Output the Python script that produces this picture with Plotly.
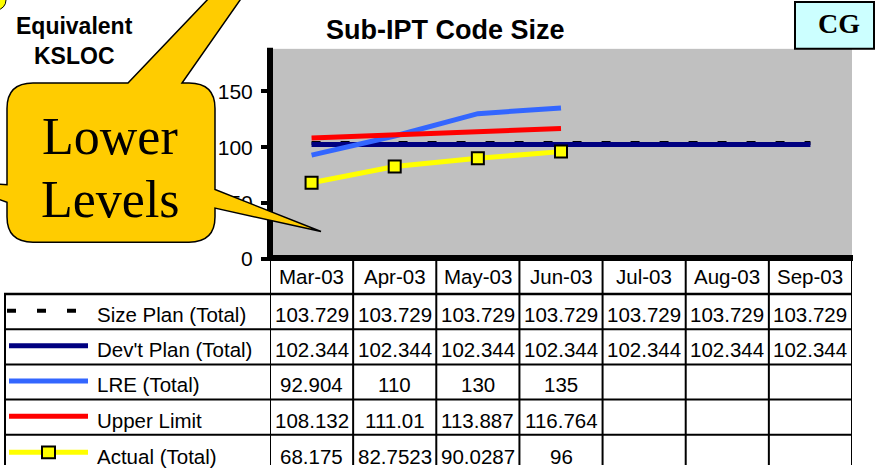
import plotly.graph_objects as go

# ---------------- data ----------------
months = ["Mar-03", "Apr-03", "May-03", "Jun-03", "Jul-03", "Aug-03", "Sep-03"]
size_plan = [103.729, 103.729, 103.729, 103.729, 103.729, 103.729, 103.729]
dev_plan = [102.344, 102.344, 102.344, 102.344, 102.344, 102.344, 102.344]
lre = [92.904, 110, 130, 135, None, None, None]
upper_limit = [108.132, 111.01, 113.887, 116.764, None, None, None]
actual = [68.175, 82.7523, 90.0287, 96, None, None, None]
series_names = ["Size Plan (Total)", "Dev't Plan (Total)", "LRE (Total)", "Upper Limit", "Actual (Total)"]
y_ticks = [0, 50, 100, 150]
title_text = "Sub-IPT Code Size"
y_label = ["Equivalent", "KSLOC"]
callout_lines = ["Lower", "Levels"]
badge = "CG"

# ---------------- helpers ----------------
W, H = 875, 476
def X(p):
    return p / W
def Y(p):
    return 1 - p / H

SANS = "Arial, Liberation Sans, sans-serif"
SERIF = "Times New Roman, Liberation Serif, serif"
FS = 20.5
colors = ["#000000", "#000080", "#3366FF", "#FF0000", "#FFFF00"]
all_series = [size_plan, dev_plan, lre, upper_limit, actual]

fig = go.Figure()
for i, (name, vals) in enumerate(zip(series_names, all_series)):
    if i == 0:
        line = dict(color=colors[i], width=4, dash="9px,20px")
        mode = "lines"
        marker = None
    elif i == 4:
        line = dict(color=colors[i], width=5)
        mode = "lines+markers"
        marker = dict(symbol="square", size=12, color=colors[i], line=dict(color="black", width=2))
    else:
        line = dict(color=colors[i], width=5)
        mode = "lines"
        marker = None
    fig.add_trace(go.Scatter(x=months, y=vals, name=name, mode=mode, line=line,
                             marker=marker, connectgaps=False, showlegend=False,
                             cliponaxis=False))

shapes = []
annotations = []

# ---------------- axis lines (drawn centred on the plot edges) ----------------
shapes.append(dict(type="line", xref="paper", yref="paper", x0=X(267), x1=X(853),
                   y0=Y(264), y1=Y(264), line=dict(color="black", width=6), layer="below"))
shapes.append(dict(type="line", xref="paper", yref="paper", x0=X(270), x1=X(270),
                   y0=Y(267), y1=Y(49), line=dict(color="black", width=6), layer="below"))

# ---------------- data table ----------------
row_top = [301, 337, 373, 409, 445]
row_bot = [337, 373, 409, 445, 481]
n = len(months)
for k in range(n + 1):
    shapes.append(dict(type="line", xref="x", yref="paper", x0=k - 0.5, x1=k - 0.5,
                       y0=Y(264), y1=Y(476), line=dict(color="black", width=2)))
shapes.append(dict(type="line", xref="paper", yref="paper", x0=X(5), x1=X(5),
                   y0=Y(301), y1=Y(476), line=dict(color="black", width=2)))
for j, yy in enumerate(row_top):
    shapes.append(dict(type="line", xref="paper", yref="paper", x0=X(4), x1=X(851),
                       y0=Y(yy), y1=Y(yy), line=dict(color="black", width=2.5 if j == 0 else 2)))

for m in months:
    annotations.append(dict(x=m, y=Y(283), xref="x", yref="paper", text=m, showarrow=False,
                            font=dict(family=SANS, size=FS, color="black"),
                            xanchor="center", yanchor="middle"))
for j, (name, vals) in enumerate(zip(series_names, all_series)):
    yc = (row_top[j] + row_bot[j]) / 2
    key_y = yc - 1 if j < 4 else 463
    text_y = yc + 3 if j < 4 else 467
    if j == 0:
        shapes.append(dict(type="line", xref="paper", yref="paper", x0=X(7), x1=X(80),
                           y0=Y(key_y), y1=Y(key_y),
                           line=dict(color="black", width=4, dash="9px,21px")))
    else:
        shapes.append(dict(type="line", xref="paper", yref="paper", x0=X(9), x1=X(88),
                           y0=Y(key_y), y1=Y(key_y),
                           line=dict(color=colors[j], width=5)))
    if j == 4:
        shapes.append(dict(type="rect", xref="paper", yref="paper", x0=X(42), x1=X(55),
                           y0=Y(key_y - 6), y1=Y(key_y + 6), fillcolor=colors[j],
                           line=dict(color="black", width=2)))
    annotations.append(dict(x=X(95), y=Y(text_y), xref="paper", yref="paper", text=name,
                            showarrow=False, font=dict(family=SANS, size=FS, color="black"),
                            xanchor="left", yanchor="middle"))
    for m, v in zip(months, vals):
        if v is None:
            continue
        annotations.append(dict(x=m, y=Y(text_y), xref="x", yref="paper", text=f"{v:g}",
                                showarrow=False, font=dict(family=SANS, size=FS, color="black"),
                                xanchor="center", yanchor="middle"))

# ---------------- titles ----------------
annotations.append(dict(x=X(445), y=Y(31), xref="paper", yref="paper",
                        text=f"<b>{title_text}</b>", showarrow=False,
                        font=dict(family=SANS, size=27, color="black"),
                        xanchor="center", yanchor="middle"))
for t, yy in zip(y_label, [27, 57]):
    annotations.append(dict(x=X(74), y=Y(yy), xref="paper", yref="paper", text=f"<b>{t}</b>",
                            showarrow=False, font=dict(family=SANS, size=23, color="black"),
                            xanchor="center", yanchor="middle"))

shapes.append(dict(type="rect", xref="paper", yref="paper", x0=X(795), x1=X(874),
                   y0=Y(50), y1=Y(2), fillcolor="#CCFFFF", line=dict(color="black", width=2)))
annotations.append(dict(x=X(839), y=Y(24), xref="paper", yref="paper", text=f"<b>{badge}</b>",
                        showarrow=False, font=dict(family=SERIF, size=28, color="black"),
                        xanchor="center", yanchor="middle"))

# ---------------- callout ----------------
def P(x, y):
    return f"{X(x):.5f},{Y(y):.5f}"

x0, x1, y0, y1, r = 7, 215, 85, 248, 26
path = (
    f"M {P(x0 + r, y0)} L {P(128, y0)} L {P(331, -133)} L {P(182, y0)} "
    f"L {P(x1 - r, y0)} Q {P(x1, y0)} {P(x1, y0 + r)} "
    f"L {P(x1, 194)} L {P(321, 237)} L {P(x1, 213)} "
    f"L {P(x1, y1 - r)} Q {P(x1, y1)} {P(x1 - r, y1)} "
    f"L {P(x0 + r, y1)} Q {P(x0, y1)} {P(x0, y1 - r)} "
    f"L {P(x0, 207)} L {P(-50, 186)} L {P(x0, 189)} "
    f"L {P(x0, y0 + r)} Q {P(x0, y0)} {P(x0 + r, y0)} Z"
)
shapes.append(dict(type="path", xref="paper", yref="paper", path=path,
                   fillcolor="#FFCC00", line=dict(color="black", width=1.5), layer="above"))
shapes.append(dict(type="circle", xref="paper", yref="paper", x0=X(-12), x1=X(6),
                   y0=Y(10), y1=Y(-10), fillcolor="#FFFF00", line=dict(color="black", width=1)))
for t, yy in zip(callout_lines, [140, 204]):
    annotations.append(dict(x=X(110), y=Y(yy), xref="paper", yref="paper", text=t,
                            showarrow=False, font=dict(family=SERIF, size=52, color="black"),
                            xanchor="center", yanchor="middle"))

fig.update_layout(
    width=W, height=H,
    margin=dict(l=0, r=0, t=0, b=0),
    paper_bgcolor="white",
    plot_bgcolor="#C0C0C0",
    showlegend=False,
    shapes=shapes,
    annotations=annotations,
    xaxis=dict(domain=[X(270), X(852)], type="category", range=[-0.5, n - 0.5],
               showline=False, showgrid=False,
               showticklabels=False, ticks="", zeroline=False, fixedrange=True),
    yaxis=dict(domain=[Y(265), Y(50)], range=[0, 188], tickvals=y_ticks,
               showline=False, showgrid=False,
               ticks="outside", ticklen=8, tickwidth=4, tickcolor="black",
               ticklabelstandoff=4,
               tickfont=dict(family=SANS, size=21, color="black"), zeroline=False,
               fixedrange=True),
)

post = (
    "document.documentElement.style.margin='0';"
    "document.documentElement.style.overflow='hidden';"
    "document.body.style.margin='0';document.body.style.overflow='hidden';"
)
fig.write_html("out.html", config={"displayModeBar": False}, post_script=post)
